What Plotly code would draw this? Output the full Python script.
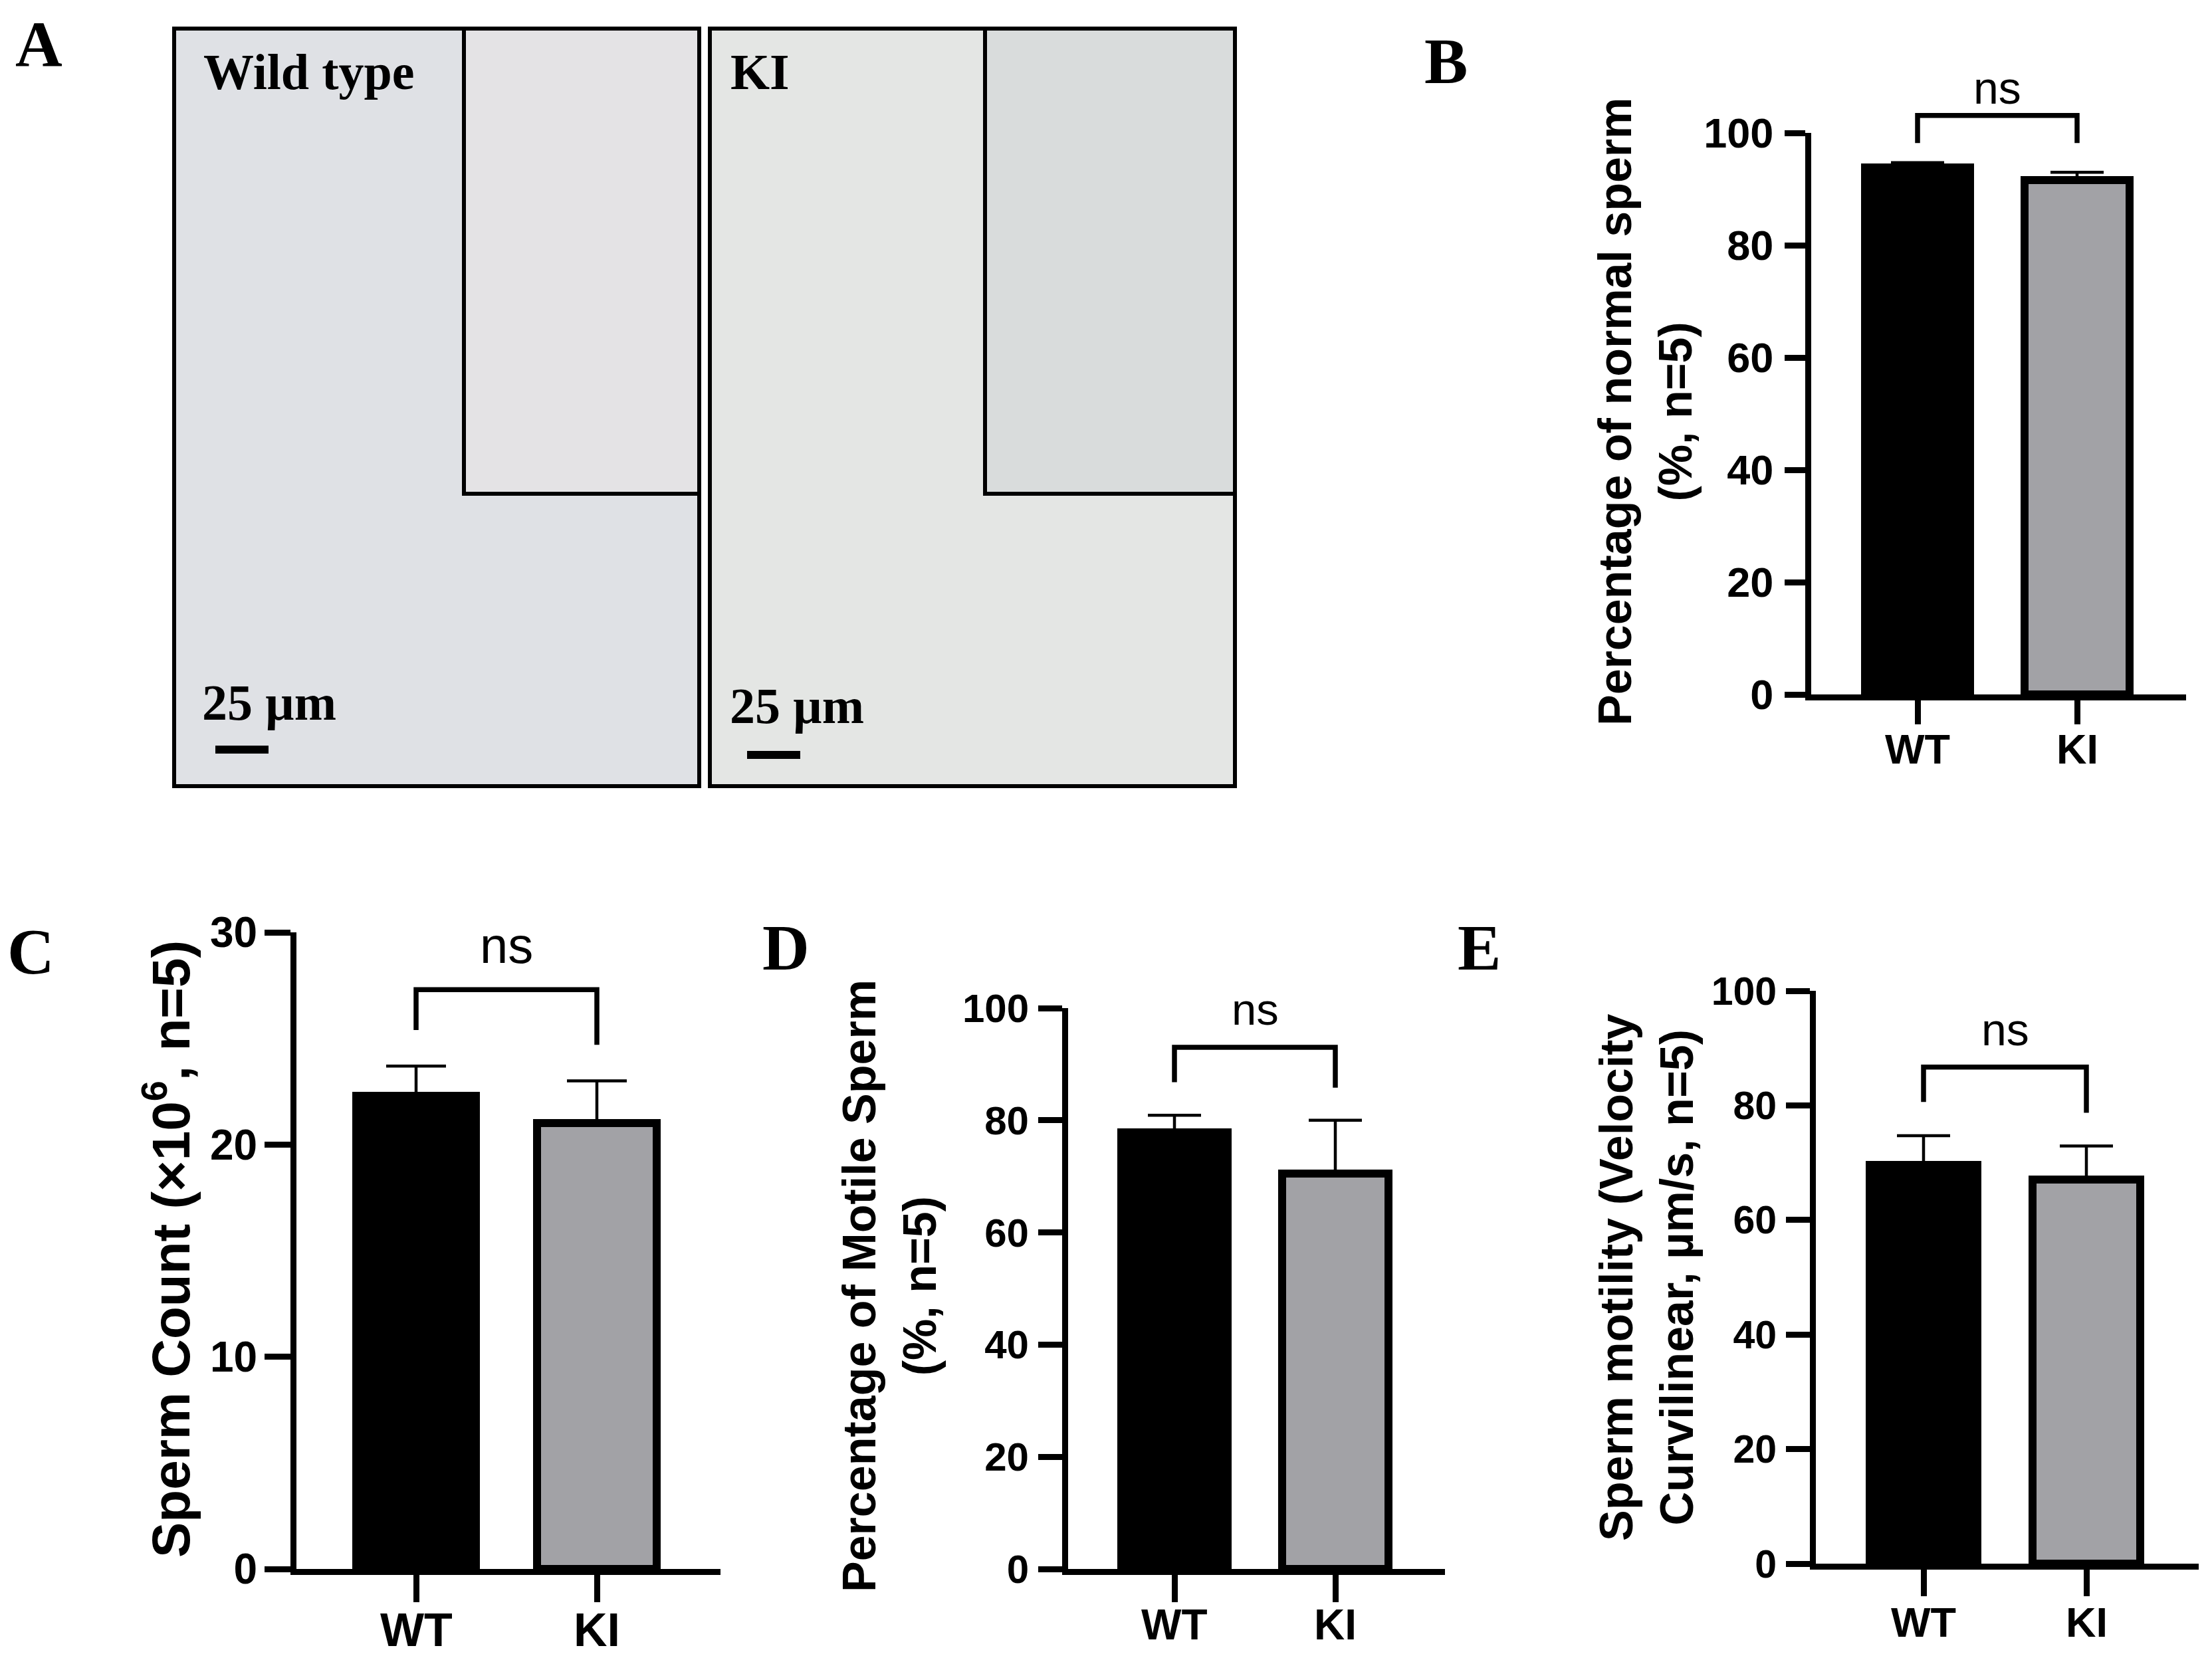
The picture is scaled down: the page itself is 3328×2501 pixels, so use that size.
import plotly.graph_objects as go

W, H = 3328, 2501
OFF = 8  # page body margin of the html page (px)

groups = ["WT", "KI"]
bar_colors = ["#000000", "#a2a2a6"]

# Panel B: percentage of normal sperm (%, n=5)
normal_mean = [93.8, 91.6]
normal_sem = [0.9, 1.4]
normal_ticks = [0, 20, 40, 60, 80, 100]
# Panel C: sperm count (x10^6, n=5)
count_mean = [22.3, 21.0]
count_sem = [1.4, 2.0]
count_ticks = [0, 10, 20, 30]
# Panel D: percentage of motile sperm (%, n=5)
motile_mean = [77.9, 70.5]
motile_sem = [3.0, 9.5]
motile_ticks = [0, 20, 40, 60, 80, 100]
# Panel E: sperm motility VCL (um/s, n=5)
vcl_mean = [69.6, 67.1]
vcl_sem = [5.1, 5.8]
vcl_ticks = [0, 20, 40, 60, 80, 100]

# significance brackets: [WT leg end, bracket top, KI leg end], label height
bracket_B, ns_B = [98.2, 103.1, 98.2], 108.0
bracket_C, ns_C = [25.4, 27.3, 24.7], 29.4
bracket_D, ns_D = [86.8, 93.0, 85.8], 99.8
bracket_E, ns_E = [80.6, 86.7, 78.7], 93.3
sig_label = "ns"

SANS = "Liberation Sans"
SERIF = "Liberation Serif"


def fx(px):
    return (px - OFF) / W


def fy(py):
    return 1 - (py - OFF) / H


# layout geometry (pixels) per panel
panels = [
    dict(name="B", mean=normal_mean, sem=normal_sem, ticks=normal_ticks, ymax=100,
         br=bracket_B, ns=ns_B, xl=2725, xr=3289, y0=1045, ytop=200, wt=2885, ki=3125,
         tick_fs=63, lab_fs=63, lab_y=1127, ns_fs=68, capw=40, yticklen=31, xticklen=36,
         ystand=4,
         title="Percentage of normal sperm<br>(%, n=5)", tx=2475, ty=620, title_fs=70),
    dict(name="C", mean=count_mean, sem=count_sem, ticks=count_ticks, ymax=30,
         br=bracket_C, ns=ns_C, xl=446, xr=1084, y0=2361, ytop=1403, wt=626, ki=898,
         tick_fs=64, lab_fs=70, lab_y=2453, ns_fs=76, capw=45, yticklen=39, xticklen=41,
         ystand=-2,
         title="Sperm Count (×10<sup>6</sup>, n=5)", tx=251, ty=1880, title_fs=80),
    dict(name="D", mean=motile_mean, sem=motile_sem, ticks=motile_ticks, ymax=100,
         br=bracket_D, ns=ns_D, xl=1607, xr=2174, y0=2361, ytop=1517, wt=1767, ki=2009,
         tick_fs=60, lab_fs=64, lab_y=2445, ns_fs=67, capw=40, yticklen=36, xticklen=41,
         ystand=2,
         title="Percentage of Motile Sperm<br>(%, n=5)", tx=1338, ty=1935, title_fs=70),
    dict(name="E", mean=vcl_mean, sem=vcl_sem, ticks=vcl_ticks, ymax=100,
         br=bracket_E, ns=ns_E, xl=2732, xr=3308, y0=2353, ytop=1491, wt=2894, ki=3139,
         tick_fs=59, lab_fs=63, lab_y=2441, ns_fs=68, capw=40, yticklen=36, xticklen=40,
         ystand=2,
         title="Sperm motility (Velocity<br>Curvilinear, µm/s, n=5)", tx=2477, ty=1922, title_fs=70),
]

fig = go.Figure()
annotations = []
shapes = []
layout_axes = {}
EXT = 1.2

for i, p in enumerate(panels):
    k = i + 1
    ko = i + 5
    s = p["ki"] - p["wt"]
    xrange_ = [-(p["wt"] - p["xl"]) / s, (p["xr"] - p["wt"]) / s]
    xdom = [fx(p["xl"]), fx(p["xr"])]
    ydom = [fy(p["y0"]), fy(p["ytop"])]
    top_ext = p["y0"] - EXT * (p["y0"] - p["ytop"])
    ydom_ext = [fy(p["y0"]), fy(top_ext)]

    fig.add_trace(go.Bar(
        x=[0, 1], y=p["mean"], width=0.66,
        marker=dict(color=bar_colors, line=dict(color="black", width=12)),
        error_y=dict(type="data", symmetric=False, array=p["sem"], arrayminus=[0, 0],
                     width=p["capw"], thickness=4.5, color="black"),
        xaxis=f"x{k}", yaxis=f"y{k}", showlegend=False, hoverinfo="skip",
    ))
    b = p["br"]
    fig.add_trace(go.Scatter(
        x=[0, 0, 1, 1], y=[b[0], b[1], b[1], b[2]], mode="lines",
        line=dict(color="black", width=7.5), xaxis=f"x{ko}", yaxis=f"y{ko}",
        showlegend=False, hoverinfo="skip",
    ))
    annotations.append(dict(
        x=0.5, y=p["ns"], xref=f"x{ko}", yref=f"y{ko}", text=sig_label, showarrow=False,
        xanchor="center", yanchor="middle",
        font=dict(family=SANS, size=p["ns_fs"], color="black"),
    ))
    annotations.append(dict(
        x=fx(p["tx"]), y=fy(p["ty"]), xref="paper", yref="paper", text=p["title"],
        showarrow=False, textangle=-90, xanchor="center", yanchor="middle",
        font=dict(family=SANS, size=p["title_fs"], color="black", weight="bold"),
    ))
    # category labels under the x axis
    for j, g in enumerate(groups):
        annotations.append(dict(
            x=j, y=fy(p["lab_y"]), xref=f"x{k}", yref="paper", text=g,
            showarrow=False, xanchor="center", yanchor="middle",
            font=dict(family=SANS, size=p["lab_fs"], color="black", weight="bold"),
        ))

    layout_axes[f"xaxis{k}"] = dict(
        domain=xdom, range=xrange_, anchor=f"y{k}", showgrid=False, zeroline=False,
        showline=True, linecolor="black", linewidth=9, ticks="outside",
        ticklen=p["xticklen"], tickwidth=9, tickcolor="black",
        tickvals=[0, 1], showticklabels=False,
        fixedrange=True, automargin=False,
    )
    layout_axes[f"yaxis{k}"] = dict(
        domain=ydom, range=[0, p["ymax"]], anchor=f"x{k}", showgrid=False, zeroline=False,
        showline=True, linecolor="black", linewidth=9, ticks="outside",
        ticklen=p["yticklen"], tickwidth=9, tickcolor="black",
        tickvals=p["ticks"], ticklabelstandoff=p["ystand"],
        tickfont=dict(family=SANS, size=p["tick_fs"], color="black", weight="bold"),
        fixedrange=True, automargin=False,
    )
    layout_axes[f"xaxis{ko}"] = dict(domain=xdom, range=xrange_, anchor=f"y{ko}",
                                     visible=False, automargin=False, fixedrange=True)
    layout_axes[f"yaxis{ko}"] = dict(domain=ydom_ext, range=[0, EXT * p["ymax"]],
                                     anchor=f"x{ko}", visible=False, automargin=False,
                                     fixedrange=True)

# ---- Panel A: micrograph placeholders ----
def rect(x0, y0, x1, y1, fill, lw=6, lc="black"):
    return dict(type="rect", xref="paper", yref="paper",
                x0=fx(x0), x1=fx(x1), y0=fy(y1), y1=fy(y0),
                fillcolor=fill, line=dict(color=lc, width=lw), layer="below")

shapes.append(rect(262, 43, 1052, 1183, "#dfe1e5"))
shapes.append(rect(698, 43, 1052, 743, "#e4e3e5"))
shapes.append(rect(1068, 43, 1858, 1183, "#e4e6e4"))
shapes.append(rect(1482, 43, 1858, 743, "#d9dcdc"))
# scale bars
shapes.append(rect(324, 1122, 404, 1134, "black", lw=0))
shapes.append(rect(1124, 1130, 1204, 1142, "black", lw=0))

photo_labels = [("Wild type", 304, 108), ("KI", 1097, 108),
                ("25 µm", 302, 1057), ("25 µm", 1096, 1062)]
for txt, x, y in photo_labels:
    annotations.append(dict(
        x=fx(x), y=fy(y), xref="paper", yref="paper", text=txt, showarrow=False,
        xanchor="left", yanchor="middle",
        font=dict(family=SERIF, size=76, color="black", weight="bold"),
    ))

panel_letters = [("A", 58, 66), ("B", 2175, 92), ("C", 46, 1432), ("D", 1182, 1426), ("E", 2225, 1426)]
for txt, x, y in panel_letters:
    annotations.append(dict(
        x=fx(x), y=fy(y), xref="paper", yref="paper", text=txt, showarrow=False,
        xanchor="center", yanchor="middle",
        font=dict(family=SERIF, size=98, color="black", weight="bold"),
    ))

fig.update_layout(
    width=W, height=H, autosize=False,
    margin=dict(l=0, r=0, t=0, b=0, pad=0, autoexpand=False),
    paper_bgcolor="white", plot_bgcolor="rgba(0,0,0,0)",
    bargap=0, showlegend=False,
    annotations=annotations, shapes=shapes,
    **layout_axes,
)

fig.write_html("out.html", config={"displayModeBar": False})
